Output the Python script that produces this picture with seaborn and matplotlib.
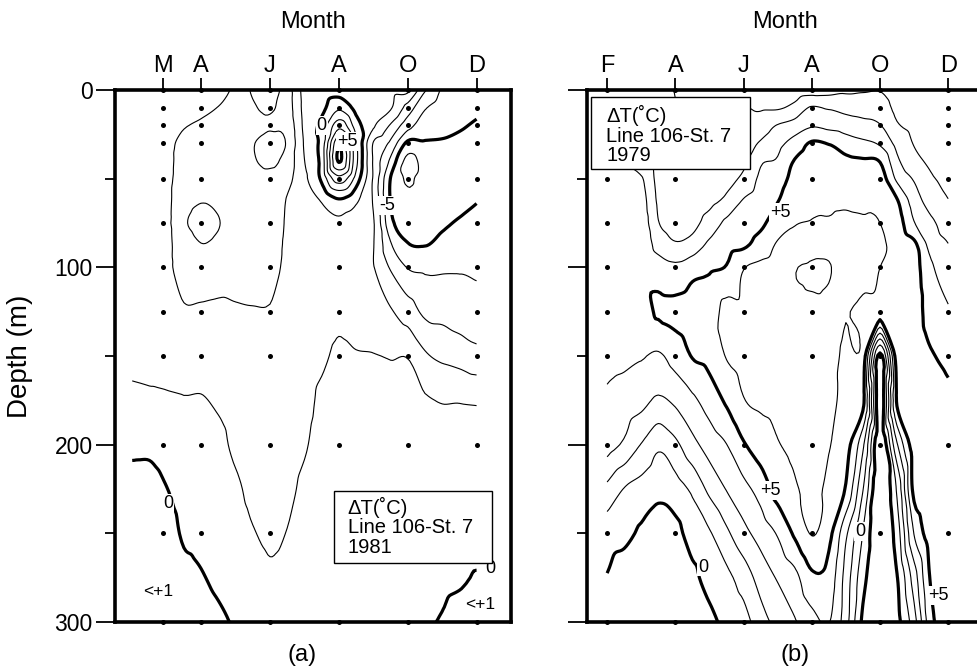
import numpy as np
import pandas as pd
import matplotlib
matplotlib.use("Agg")
import matplotlib.pyplot as plt
import matplotlib.tri as mtri
from matplotlib.patches import Rectangle
from matplotlib.ticker import FixedLocator
import seaborn as sns

sns.set_theme(style="white")
plt.rcParams['font.family'] = ['Liberation Sans', 'DejaVu Sans']
plt.rcParams.update({"text.color": "black", "axes.labelcolor": "black",
                     "xtick.color": "black", "ytick.color": "black"})

# ---------------- data ----------------
months_a = ["M", "A", "J", "A", "O", "D"]
station_x_a = [2.9, 4.0, 6.0, 8.0, 10.0, 12.0]
months_b = ["F", "A", "J", "A", "O", "D"]
station_x_b = [2.0, 4.0, 6.0, 8.0, 10.0, 12.0]
station_depths = [0, 10, 20, 30, 50, 75, 100, 125, 150, 200, 250, 300]

grid_months = [2.0, 2.5, 3.0, 3.5, 4.0, 4.5, 5.0, 5.5, 6.0, 6.5, 7.0,
               7.5, 8.0, 8.5, 9.0, 9.5, 10.0, 10.5, 11.0, 11.5, 12.0]
grid_depths = [0, 10, 20, 30, 40, 50, 62, 75, 87, 100, 125, 150, 175, 200, 225, 250, 275, 300]

# temperature anomaly (deg C), 1981, rows = grid_depths, cols = grid_months
dT_1981 = [
    [-1.5, -1.6, -1.6, -1.6, -1.6, -1.7, -2.2, -3.1, -3.4, -2.5, -0.7, -0.6, -0.5, -0.6, -0.7, -0.7, -0.7, -2.9, -4.1, -4.3, -4.5],
    [-1.5, -1.6, -1.65, -1.75, -1.85, -2.02, -2.3, -2.9, -3.1, -2.5, -0.75, -0.3, 0.8, -0.3, -0.8, -0.9, -2.4, -3.9, -4.4, -4.6, -4.8],
    [-1.5, -1.6, -1.7, -1.95, -2.1, -2.3, -2.4, -2.7, -2.9, -2.7, -0.8, 0.3, 2.6, 0.5, -0.85, -2.1, -3.6, -4.5, -4.7, -4.9, -5.1],
    [-1.5, -1.6, -1.8, -2.2, -2.4, -2.5, -2.5, -2.95, -3.3, -2.9, -0.9, 0.4, 4.75, 1.2, -2.05, -3.2, -5.2, -5.1, -5.1, -5.2, -5.3],
    [-1.5, -1.6, -1.8, -2.3, -2.5, -2.6, -2.5, -2.9, -3.2, -2.6, -1.02, 0.4, 5.1, 1.3, -2.1, -4.2, -6.3, -5.6, -5.5, -5.5, -5.4],
    [-1.5, -1.6, -1.8, -2.4, -2.7, -2.6, -2.5, -2.6, -2.7, -2.3, -1.2, 0.2, 2.6, 0.6, -2.1, -5.02, -6.1, -5.6, -5.6, -5.5, -5.3],
    [-1.5, -1.6, -1.8, -2.6, -2.95, -2.8, -2.5, -2.5, -2.5, -1.95, -1.4, -0.9, -0.1, -0.8, -2.1, -5.05, -5.8, -5.5, -5.5, -5.3, -5.05],
    [-1.5, -1.6, -1.8, -2.85, -3.3, -3.05, -2.5, -2.45, -2.45, -1.9, -1.5, -1.3, -1.2, -1.6, -1.9, -4.7, -5.4, -5.3, -5.15, -4.9, -4.7],
    [-1.5, -1.6, -1.8, -2.5, -2.98, -2.8, -2.45, -2.4, -2.4, -1.85, -1.5, -1.5, -1.4, -1.7, -1.95, -3.9, -4.95, -5.05, -4.75, -4.5, -4.4],
    [-1.5, -1.6, -1.8, -2.4, -2.6, -2.5, -2.35, -2.3, -2.3, -1.8, -1.5, -1.5, -1.45, -1.65, -1.95, -3.1, -4.05, -4.2, -4.15, -4.1, -4.15],
    [-1.4, -1.45, -1.6, -1.9, -1.85, -1.8, -1.9, -1.95, -1.95, -1.7, -1.45, -1.4, -1.2, -1.4, -1.6, -1.9, -2.5, -3.2, -3.3, -3.5, -3.6],
    [-1.2, -1.25, -1.3, -1.5, -1.35, -1.3, -1.5, -1.6, -1.7, -1.6, -1.35, -1.15, -0.85, -0.95, -0.97, -1.05, -1.05, -1.85, -2.2, -2.4, -2.7],
    [-0.8, -0.85, -0.9, -0.95, -0.95, -1.1, -1.3, -1.4, -1.5, -1.45, -1.25, -0.85, -0.7, -0.8, -0.8, -0.8, -0.85, -0.9, -1.05, -1.05, -1.1],
    [-0.2, -0.2, -0.4, -0.6, -0.7, -0.8, -1.15, -1.3, -1.35, -1.3, -1.08, -0.7, -0.6, -0.7, -0.65, -0.6, -0.6, -0.55, -0.75, -0.7, -0.75],
    [0.3, 0.3, 0.02, -0.35, -0.45, -0.6, -0.85, -1.2, -1.2, -1.15, -0.85, -0.6, -0.5, -0.6, -0.55, -0.5, -0.45, -0.35, -0.45, -0.5, -0.55],
    [0.5, 0.5, 0.35, -0.1, -0.2, -0.4, -0.6, -0.95, -1.1, -0.98, -0.7, -0.5, -0.45, -0.5, -0.45, -0.4, -0.35, -0.2, -0.2, -0.2, -0.3],
    [0.6, 0.6, 0.45, 0.2, 0.05, -0.15, -0.35, -0.7, -0.9, -0.8, -0.55, -0.4, -0.35, -0.35, -0.3, -0.3, -0.2, -0.1, -0.15, -0.1, 0.05],
    [0.7, 0.6, 0.5, 0.4, 0.3, 0.15, -0.1, -0.45, -0.6, -0.55, -0.4, -0.3, -0.25, -0.2, -0.2, -0.15, -0.05, -0.05, 0.05, 0.3, 0.3],
]

# temperature anomaly (deg C), 1979
dT_1979 = [
    [2.5, 2.3, 2.2, 2.2, 1.98, 1.9, 1.8, 1.8, 1.8, 1.6, 1.5, 1.4, 1.5, 1.6, 1.8, 1.9, 1.95, 1.5, 1.5, 1.4, 1.3],
    [3.0, 2.7, 2.5, 2.3, 2.02, 1.9, 1.8, 1.9, 2.05, 1.9, 1.9, 2.3, 3.1, 2.9, 2.7, 2.6, 2.5, 1.75, 1.6, 1.5, 1.4],
    [3.5, 3.2, 2.8, 2.4, 2.04, 1.95, 1.8, 2.05, 2.3, 2.5, 3.05, 3.4, 3.9, 3.7, 3.5, 3.3, 3.05, 2.1, 1.8, 1.6, 1.5],
    [3.9, 3.6, 3.02, 2.5, 2.1, 2.02, 1.8, 2.2, 2.6, 3.1, 3.7, 4.4, 5.1, 4.95, 4.5, 4.2, 3.85, 2.7, 1.95, 1.7, 1.6],
    [4.2, 3.9, 3.3, 2.6, 2.2, 2.1, 1.9, 2.4, 2.8, 3.85, 4.1, 5.05, 5.5, 5.3, 5.2, 5.1, 4.95, 3.2, 2.3, 1.85, 1.7],
    [4.4, 4.2, 4.1, 2.7, 2.3, 2.3, 2.2, 2.7, 3.2, 4.2, 4.6, 5.3, 5.8, 5.6, 5.5, 5.5, 5.5, 3.8, 2.9, 2.1, 1.85],
    [4.5, 4.4, 4.4, 2.85, 2.45, 2.55, 2.7, 3.2, 4.05, 4.5, 4.95, 5.6, 5.9, 5.85, 5.85, 5.8, 5.8, 5.05, 3.5, 2.5, 2.02],
    [4.55, 4.6, 4.6, 3.05, 2.6, 2.75, 3.4, 4.2, 4.4, 4.8, 5.5, 5.95, 6.05, 6.1, 6.2, 6.1, 6.0, 5.5, 4.05, 3.2, 2.5],
    [4.6, 4.65, 4.75, 3.6, 3.1, 3.35, 4.2, 4.6, 4.8, 5.4, 6.1, 6.3, 6.6, 6.7, 6.7, 6.3, 6.1, 5.75, 5.2, 3.6, 3.02],
    [4.6, 4.7, 4.8, 4.5, 4.2, 4.6, 4.85, 5.05, 5.95, 6.2, 6.4, 6.95, 7.1, 7.05, 6.6, 6.3, 6.0, 5.8, 5.4, 4.15, 3.4],
    [4.45, 4.55, 4.65, 5.1, 5.2, 5.4, 5.5, 6.3, 6.2, 6.35, 6.5, 6.7, 6.8, 6.7, 6.1, 5.8, 5.6, 5.6, 5.5, 4.5, 4.1],
    [4.25, 4.2, 4.08, 3.87, 4.4, 5.05, 5.3, 6.05, 6.3, 6.35, 6.4, 6.5, 6.6, 6.45, 5.75, 5.55, -0.3, 5.5, 5.55, 5.1, 4.7],
    [3.85, 3.56, 3.32, 2.86, 3.2, 3.8, 4.45, 5.15, 5.95, 6.15, 6.2, 6.3, 6.4, 6.25, 5.7, 5.3, -0.6, 5.15, 5.55, 5.6, 5.3],
    [3.4, 2.83, 1.96, 1.2, 1.78, 2.7, 3.42, 3.98, 4.9, 5.5, 5.95, 6.15, 6.3, 6.05, 5.4, 3.2, -0.8, 2.9, 5.5, 5.8, 5.7],
    [1.75, 0.96, 0.63, 0.28, 0.58, 1.2, 2.25, 3.05, 3.7, 4.4, 5.4, 5.9, 6.15, 5.8, 4.9, 2.05, -0.85, 1.15, 5.3, 5.7, 5.8],
    [0.45, 0.26, -0.15, -0.45, -0.3, 0.45, 0.9, 1.8, 2.7, 3.4, 4.1, 5.15, 6.05, 5.3, 3.2, 0.97, -0.9, 0.5, 4.05, 5.5, 5.8],
    [-0.05, -0.45, -0.6, -0.7, -0.65, -0.25, 0.38, 0.75, 1.45, 2.4, 3.1, 3.7, 4.8, 4.6, 2.6, 0.35, -0.85, -0.05, 2.5, 5.15, 5.7],
    [-0.6, -0.85, -0.85, -0.9, -0.9, -0.7, -0.3, 0.3, 0.6, 1.6, 2.3, 2.9, 3.6, 4.05, 2.4, -0.2, -0.8, -0.3, 1.6, 4.7, 5.6],
]

thin_levels_a = [-6, -4, -3, -2, -1, 1, 2, 3, 4]
heavy_levels_a = [-5, 0, 5]
thin_levels_b = [1, 2, 3, 4, 6, 7]
heavy_levels_b = [0, 5]

box_text_a = "\u0394T(\u02daC)\nLine 106-St. 7\n1981"
box_text_b = "\u0394T(\u02daC)\nLine 106-St. 7\n1979"


# ---------------- helpers ----------------
def station_frame(xs):
    return pd.DataFrame([(x, d) for x in xs for d in station_depths],
                        columns=["month", "depth"])


def draw_field(ax, field, thin, heavy):
    X, Z = np.meshgrid(grid_months, grid_depths)
    base = mtri.Triangulation(X.ravel(), Z.ravel() / 25.0)
    z = np.asarray(field, dtype=float).ravel()
    interp = mtri.CubicTriInterpolator(base, z, kind="geom")
    refiner = mtri.UniformTriRefiner(base)
    fine, vals = refiner.refine_field(z, triinterpolator=interp, subdiv=3)
    tri = mtri.Triangulation(fine.x, fine.y * 25.0, fine.triangles)
    ax.tricontour(tri, vals, levels=thin, colors="black", linewidths=0.8,
                  negative_linestyles="solid", zorder=2)
    ax.tricontour(tri, vals, levels=heavy, colors="black", linewidths=2.3,
                  negative_linestyles="solid", zorder=2)


def style_axes(ax, xlim, xticks, xlabels, show_y):
    ax.set_xlim(*xlim)
    ax.set_ylim(300, 0)
    ax.set_xlabel("")
    ax.set_ylabel("")
    ax.xaxis.tick_top()
    ax.set_xticks(xticks)
    ax.set_xticklabels(xlabels)
    ax.set_yticks([0, 100, 200, 300])
    ax.yaxis.set_minor_locator(FixedLocator([50, 150, 250]))
    ax.tick_params(axis="x", which="major", top=True, bottom=False, labeltop=True,
                   labelbottom=False, direction="out", length=8.5, width=1.3, pad=1,
                   labelsize=17, color="black", labelcolor="black")
    ax.tick_params(axis="y", which="major", left=True, right=False, labelleft=show_y,
                   direction="out", length=14, width=1.3, pad=2, labelsize=16.5,
                   color="black", labelcolor="black")
    ax.tick_params(axis="y", which="minor", left=True, right=False, length=7,
                   width=1.3, direction="out", color="black")
    for sp in ax.spines.values():
        sp.set_visible(True)
        sp.set_linewidth(2.6)
        sp.set_color("black")
    ax.text(0.5, 1 + 68 / 532, "Month", transform=ax.transAxes,
            ha="center", va="center", fontsize=17, color="black")


def label(ax, x, d, s, size=13):
    ax.text(x, d, s, ha="center", va="center", fontsize=size, zorder=4, color="black",
            bbox=dict(facecolor="white", edgecolor="none", pad=0.6))


# ---------------- figure ----------------
fig = plt.figure(figsize=(9.78, 6.68), dpi=100)
fig.patch.set_facecolor("white")
ax_a = fig.add_axes([115 / 978, 46 / 668, 396 / 978, 532 / 668])
ax_b = fig.add_axes([587 / 978, 46 / 668, 396 / 978, 532 / 668])

# panel (a) 1981
draw_field(ax_a, dT_1981, thin_levels_a, heavy_levels_a)
sns.scatterplot(data=station_frame(station_x_a), x="month", y="depth", ax=ax_a,
                color="black", s=13, linewidth=0, legend=False, zorder=3, clip_on=False)
style_axes(ax_a, (1.5, 13.0), station_x_a, months_a, True)
label(ax_a, 7.5, 20, "0")
label(ax_a, 8.25, 29, "+5")
label(ax_a, 9.4, 65, "-5")
label(ax_a, 3.04, 233, "0")
label(ax_a, 12.39, 270, "0")
ax_a.text(2.75, 283, "<+1", ha="center", va="center", fontsize=12.5, zorder=4)
ax_a.text(12.1, 290, "<+1", ha="center", va="center", fontsize=12.5, zorder=4)
ax_a.add_patch(Rectangle((0.553, 0.111), 0.399, 0.135, transform=ax_a.transAxes,
                         facecolor="white", edgecolor="black", linewidth=1.0, zorder=5))
ax_a.text(0.588, 0.236, box_text_a, transform=ax_a.transAxes, ha="left", va="top",
          fontsize=14.5, linespacing=1.05, zorder=6)
ax_a.text(0.472, -0.062, "(a)", transform=ax_a.transAxes, ha="center", va="center",
          fontsize=17)

# panel (b) 1979
draw_field(ax_b, dT_1979, thin_levels_b, heavy_levels_b)
sns.scatterplot(data=station_frame(station_x_b), x="month", y="depth", ax=ax_b,
                color="black", s=13, linewidth=0, legend=False, zorder=3, clip_on=False)
style_axes(ax_b, (1.41, 13.02), station_x_b, months_b, False)
label(ax_b, 7.07, 69, "+5")
label(ax_b, 6.78, 226, "+5")
label(ax_b, 4.81, 269, "0")
label(ax_b, 9.42, 249, "0")
label(ax_b, 11.7, 285, "+5")
ax_b.add_patch(Rectangle((0.010, 0.852), 0.402, 0.135, transform=ax_b.transAxes,
                         facecolor="white", edgecolor="black", linewidth=1.0, zorder=5))
ax_b.text(0.048, 0.972, box_text_b, transform=ax_b.transAxes, ha="left", va="top",
          fontsize=14.5, linespacing=1.05, zorder=6)
ax_b.text(0.525, -0.062, "(b)", transform=ax_b.transAxes, ha="center", va="center",
          fontsize=17)

fig.text(20 / 978, 1 - 356 / 668, "Depth (m)", rotation=90, ha="center", va="center",
         fontsize=20, color="black")

fig.savefig("out.png", dpi=100, facecolor="white")
